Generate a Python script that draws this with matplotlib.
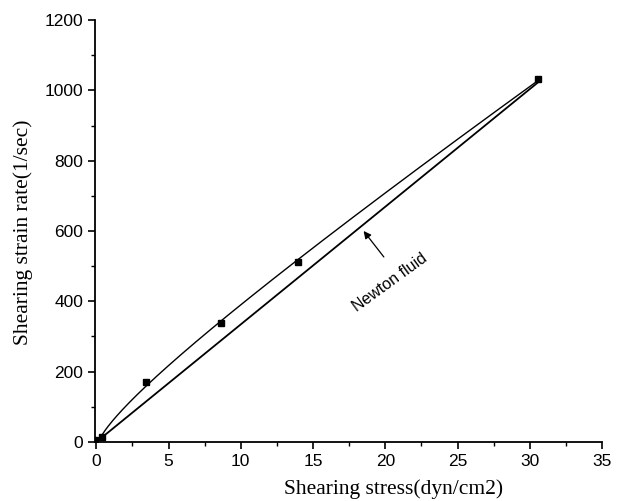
import numpy as np
import matplotlib.pyplot as plt
from matplotlib.ticker import MultipleLocator

# measured points (shearing stress vs shearing strain rate)
stress = [-0.1, 0.4, 3.45, 8.6, 13.95, 30.6]
strain_rate = [5, 15, 171, 339, 513, 1031]

# Newton fluid reference line
newton_x = [0.4, 30.7]
newton_y = [13, 1027]

fig = plt.figure(figsize=(6.2, 5.01), dpi=100)
ax = fig.add_axes([0.153, 0.118, 0.818, 0.842])

# smooth fit through the measured points: y = a*x + b*sqrt(x) + c
px = np.array(stress[1:])
py = np.array(strain_rate[1:])
A = np.column_stack([px, np.sqrt(px), np.ones_like(px)])
coef = np.linalg.lstsq(A, py, rcond=None)[0]
xs = np.linspace(0.4, 30.7, 300)
ax.plot(xs, coef[0] * xs + coef[1] * np.sqrt(xs) + coef[2], color='black', lw=1.0)
ax.plot(newton_x, newton_y, color='black', lw=1.3)
ax.plot(stress, strain_rate, 's', color='black', markersize=4.5)

# arrow pointing at the Newton line
ax.annotate('', xy=(18.5, 600), xytext=(19.9, 526),
            arrowprops=dict(arrowstyle='-|>', color='black', lw=0.9,
                            shrinkA=0, shrinkB=0, mutation_scale=11))
ax.text(20.3, 452, 'Newton fluid', rotation=36, ha='center', va='center',
        family='Liberation Sans', fontsize=11.5, rotation_mode='anchor')

ax.set_xlim(-0.1, 35)
ax.set_ylim(0, 1200)
ax.xaxis.set_major_locator(MultipleLocator(5))
ax.xaxis.set_minor_locator(MultipleLocator(2.5))
ax.yaxis.set_major_locator(MultipleLocator(200))
ax.yaxis.set_minor_locator(MultipleLocator(100))
ax.tick_params(which='major', direction='out', length=5, width=1.2,
               labelsize=12.5)
ax.tick_params(which='minor', direction='out', length=3, width=1.0)
for lab in ax.get_xticklabels() + ax.get_yticklabels():
    lab.set_family('Liberation Sans')

ax.spines['top'].set_visible(False)
ax.spines['right'].set_visible(False)
ax.spines['left'].set_linewidth(1.3)
ax.spines['bottom'].set_linewidth(1.3)

ax.set_xlabel('Shearing stress(dyn/cm2)', family='Liberation Serif',
              fontsize=15.5, va='center')
ax.xaxis.set_label_coords(0.588, -0.113)
ax.set_ylabel('Shearing strain rate(1/sec)', family='Liberation Serif',
              fontsize=15.5, va='center')
ax.yaxis.set_label_coords(-0.142, 0.498)

fig.savefig('out.png', dpi=100)
